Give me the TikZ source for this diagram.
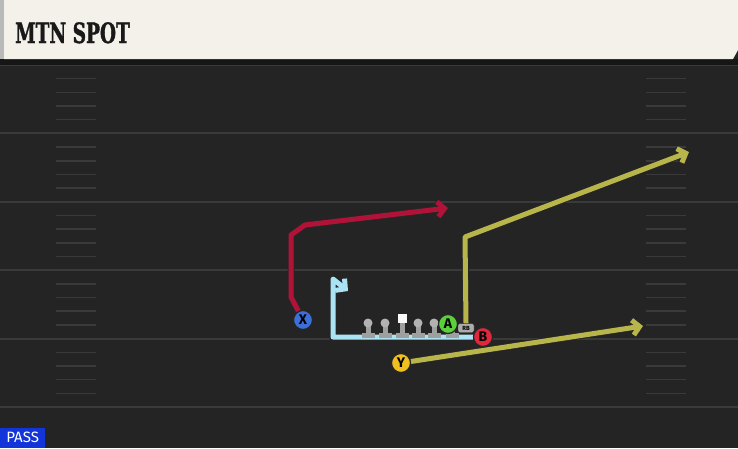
\documentclass[tikz,border=0pt]{standalone}
\usepackage{fontspec}
\usetikzlibrary{arrows.meta}
\newfontfamily\titlefont[FakeStretch=0.66,FakeBold=1.2]{DejaVu Serif Bold}
\newfontfamily\tagfont{Fira Sans}

\definecolor{fieldgray}{HTML}{242424}
\definecolor{shadowgray}{HTML}{161616}
\definecolor{linegray}{HTML}{3A3A3A}
\definecolor{cream}{HTML}{F4F1EA}
\definecolor{xred}{HTML}{B01238}
\definecolor{olive}{HTML}{B8B54A}
\definecolor{iceblue}{HTML}{A9E3F4}
\definecolor{passblue}{HTML}{1234D8}
\definecolor{xblue}{HTML}{3C6FD8}
\definecolor{agreen}{HTML}{5AD13A}
\definecolor{bred}{HTML}{E0283C}
\definecolor{yyellow}{HTML}{F0C020}

\tikzset{
  player/.style={circle, draw=black!85, line width=1.2pt, inner sep=0pt,
    minimum size=19pt, font=\tagfont\bfseries\fontsize{14}{14}\selectfont},
  route/.style={line width=5pt, line join=round,
    preaction={draw=black!85, line width=7pt}},
  tip/.style={-{Straight Barb[length=7pt,width=15pt]}},
  lineman/.pic={
    \fill[gray!75] (-2.5,0) rectangle (2.5,11);
    \fill[gray!60] (0,0) circle (4.5);
    \fill[gray!75] (-6.5,10) rectangle (6.5,15);
  },
  centerman/.pic={
    \fill[gray!75] (-2.5,-2) rectangle (2.5,11);
    \fill[white!95!gray] (-4.5,-9) rectangle (4.5,0);
    \fill[gray!75] (-6.5,10) rectangle (6.5,15);
  },
}

\begin{document}
\begin{tikzpicture}[x=1pt,y=-1pt]
\useasboundingbox (0,0) rectangle (738,448);

% field
\fill[fieldgray] (0,0) rectangle (738,448);
\foreach \i in {0,...,5}
  \draw[linegray,line width=2pt] (0,{65+68.4*\i}) -- (738,{65+68.4*\i});
\foreach \i in {0,...,4}
  \foreach \j in {1,...,4} {
    \draw[linegray,line width=1.5pt] (56,{65+68.4*\i+13.68*\j}) -- (96,{65+68.4*\i+13.68*\j});
    \draw[linegray,line width=1.5pt] (646,{65+68.4*\i+13.68*\j}) -- (686,{65+68.4*\i+13.68*\j});
  }

% header
\fill[shadowgray] (0,59) rectangle (738,65);
\fill[gray!55] (0,0) rectangle (4,59);
\fill[cream] (4,0) -- (738,0) -- (738,50) -- (733,59) -- (4,59) -- cycle;
\node[anchor=base west, inner sep=0pt, font=\titlefont\fontsize{28}{28}\selectfont, text=black!90]
  (title) at (15,43) {MTN SPOT};

% players
\node[player, fill=xblue] (X) at (303,320) {X};
\node[player, fill=bred] (B) at (483,337) {B};
\node[player, fill=yyellow] (Y) at (401,363) {Y};

% route points
\coordinate (xa) at (291,297);
\coordinate (xb) at (291,235);
\coordinate (xc) at (305,225);
\coordinate (xend) at (448,208);
\coordinate (ba) at (333,337);
\coordinate (bb) at (333,279);
\coordinate (bend) at (348,291);
\coordinate (rba) at (465,237);
\coordinate (rbend) at (689,152);
\coordinate (yend) at (643,326);

\draw[route, xred, tip] (X) -- (xa) -- (xb) -- (xc) -- (xend);
\draw[route, iceblue, tip] (B.west) -- (ba) -- (bb) -- (bend);
\draw[route, olive, tip] (Y) -- (yend);

% line
\foreach \x in {368,385,418,434,452}
  \pic at (\x,323) {lineman};
\pic at (402,323) {centerman};

\node[player, fill=agreen] (A) at (448,324) {A};
\node[draw=black!85, fill=gray!65, rounded corners=2pt, inner sep=1pt,
  minimum width=16pt, minimum height=9pt, font=\tagfont\bfseries\fontsize{6}{6}\selectfont]
  (RB) at (466,328) {RB};
\draw[route, olive, tip] (RB.north) -- (rba) -- (rbend);
\node[player, fill=bred] at (B) {B};

% tag
\node[fill=passblue, text=white, anchor=south west, minimum width=45pt, minimum height=20pt,
  inner sep=0pt, font=\tagfont\fontsize{15}{15}\selectfont] (pass) at (0,448) {PASS};
\end{tikzpicture}
\end{document}
